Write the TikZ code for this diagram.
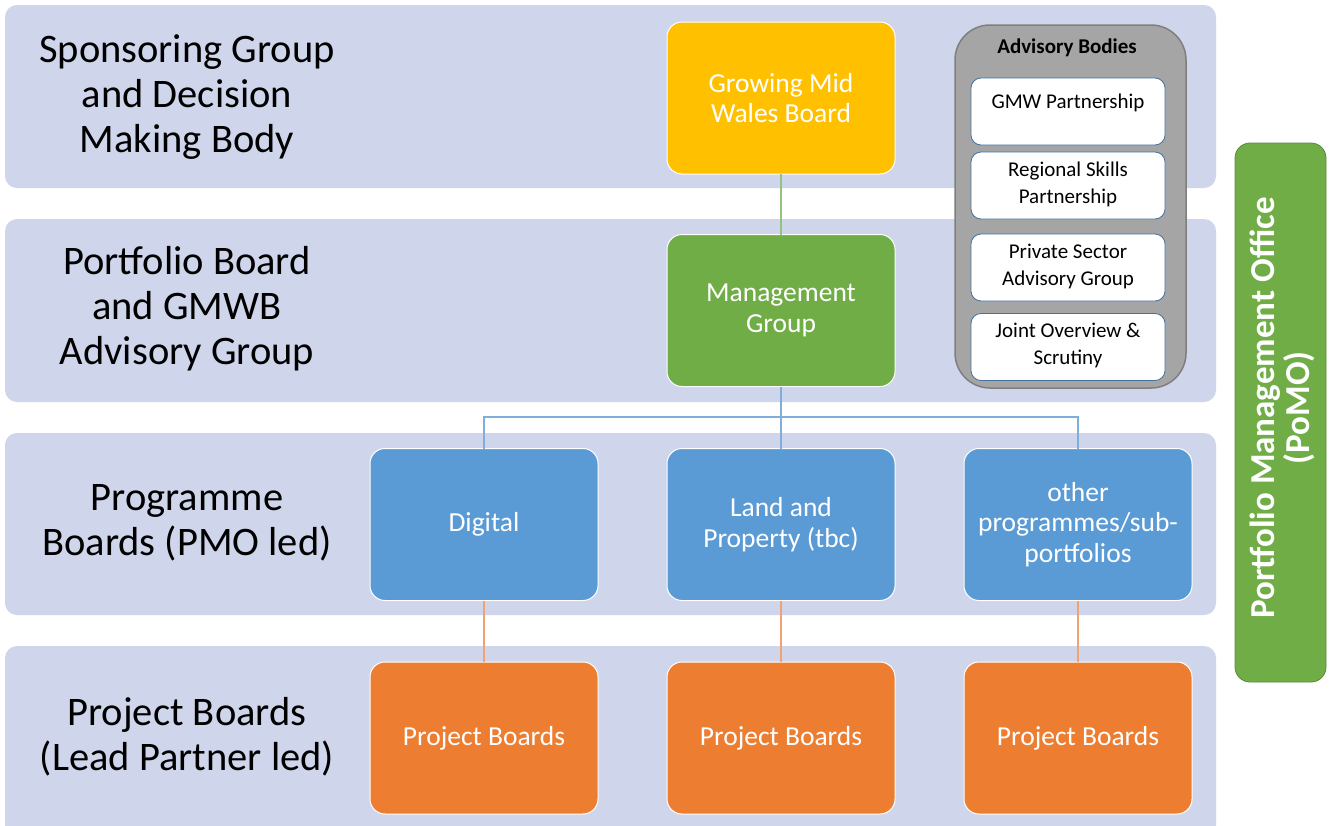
\documentclass[tikz,border=0pt]{standalone}
\usepackage{fontspec}
\setmainfont{Carlito}
\definecolor{bandc}{HTML}{CFD5EA}
\definecolor{yel}{HTML}{FFC000}
\definecolor{grn}{HTML}{70AD47}
\definecolor{blu}{HTML}{5B9BD5}
\definecolor{org}{HTML}{ED7D31}
\definecolor{gry}{HTML}{A5A5A5}
\definecolor{gryb}{HTML}{7F7F7F}
\definecolor{wbord}{HTML}{41719C}
\definecolor{lgrn}{HTML}{93C47D}
\definecolor{lblu}{HTML}{7FAEDD}
\definecolor{lorg}{HTML}{F1A271}
\begin{document}
\begin{tikzpicture}[x=1pt,y=-1pt,
  band/.style={fill=bandc,rounded corners=12pt},
  lbl/.style={align=center,text=black,font=\fontsize{40.5}{45}\selectfont},
  box/.style={draw=white,line width=1pt,rounded corners=15pt,minimum width=228pt,minimum height=152pt,inner sep=0pt,outer sep=0pt,text=white,align=center,font=\fontsize{27.5}{30.5}\selectfont},
  wbox/.style={draw=wbord,fill=white,line width=0.8pt,rounded corners=10pt,minimum width=194pt,minimum height=67pt,inner sep=0pt,outer sep=0pt},
  wtxt/.style={align=center,text=black,font=\fontsize{21}{27}\selectfont},
  conn/.style={line width=1.5pt}
]
\useasboundingbox (0,0) rectangle (1331,825);
\clip (0,0) rectangle (1331,825);
\fill[white] (0,0) rectangle (1331,825);
% bands
\fill[band] (5,5) rectangle (1216,188);
\fill[band] (5,219) rectangle (1216,402);
\fill[band] (5,433) rectangle (1216,615);
\fill[band] (5,646) rectangle (1216,850);
% left labels
\node[lbl] (l1) at (187,97) {Sponsoring Group\\and Decision\\Making Body};
\node[lbl] (l2) at (187,309) {Portfolio Board\\and GMWB\\Advisory Group};
\node[lbl] (l3) at (187,523) {Programme\\Boards (PMO led)};
\node[lbl] (l4) at (187,737) {Project Boards\\(Lead Partner led)};
% main boxes
\node[box,fill=yel] (gmw) at (781,98) {Growing Mid\\Wales Board};
\node[box,fill=grn] (mgmt) at (781,310.5) {Management\\Group};
\node[box,fill=blu] (dig) at (484,524.5) {Digital};
\node[box,fill=blu] (land) at (781,524.5) {Land and\\Property (tbc)};
\node[box,fill=blu] (oth) at (1078,524.5) {other\\programmes/sub-\\portfolios};
\node[box,fill=org] (pb1) at (484,738) {Project Boards};
\node[box,fill=org] (pb2) at (781,738) {Project Boards};
\node[box,fill=org] (pb3) at (1078,738) {Project Boards};
% advisory bodies
\node[draw=gryb,fill=gry,line width=1.5pt,rounded corners=35pt,minimum width=231pt,minimum height=363pt,inner sep=0pt] (adv) at (1070.5,206.5) {};
\node[font=\fontsize{21}{24}\selectfont\bfseries,text=black] (advt) at (1067,48) {Advisory Bodies};
\node[wbox] (a1) at (1068,111.5) {};
\node[wtxt] (a1t) at (1068,103) {GMW Partnership};
\node[wbox] (a2) at (1068,185.5) {};
\node[wtxt] (a2t) at (1068,184) {Regional Skills\\Partnership};
\node[wbox] (a3) at (1068,267.5) {};
\node[wtxt] (a3t) at (1068,266) {Private Sector\\Advisory Group};
\node[wbox] (a4) at (1068,347) {};
\node[wtxt] (a4t) at (1068,345) {Joint Overview \&\\Scrutiny};
% PoMO
\node[fill=grn,draw=grn!80!black,line width=0.8pt,rounded corners=15pt,minimum width=91pt,minimum height=539pt,inner sep=0pt] (pomo) at (1280.5,412.5) {};
\node[rotate=90,text=white,align=center,font=\fontsize{35}{35}\selectfont\bfseries] (pomot) at (1282,408) {Portfolio Management Office\\(PoMO)};
% connectors
\coordinate (bus) at (781,417);
\draw[conn,lgrn] (gmw.south) -- (mgmt.north);
\draw[conn,lblu] (mgmt.south) -- (land.north);
\draw[conn,lblu] (dig.north) |- (bus) -| (oth.north);
\draw[conn,lorg] (dig.south) -- (pb1.north);
\draw[conn,lorg] (land.south) -- (pb2.north);
\draw[conn,lorg] (oth.south) -- (pb3.north);
\end{tikzpicture}
\end{document}
